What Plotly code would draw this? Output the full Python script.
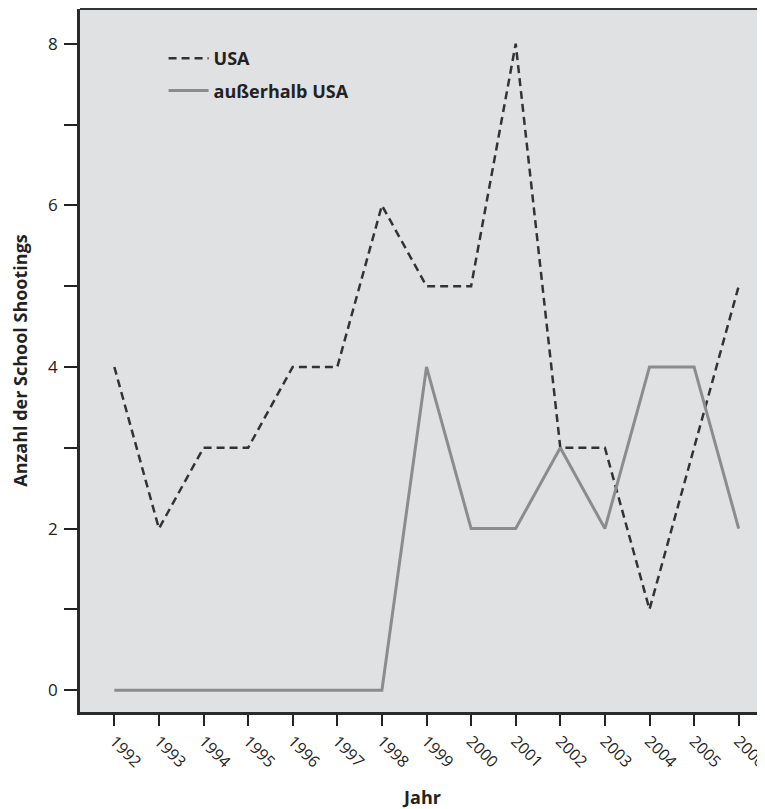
import plotly.graph_objects as go

years = [1992, 1993, 1994, 1995, 1996, 1997, 1998, 1999, 2000, 2001, 2002, 2003, 2004, 2005, 2006]
usa = [4, 2, 3, 3, 4, 4, 6, 5, 5, 8, 3, 3, 1, 3, 5]
outside = [0, 0, 0, 0, 0, 0, 0, 4, 2, 2, 3, 2, 4, 4, 2]
tick_labels = [str(y) for y in years]

FONT = "Open Sans"
INK = "#222222"

fig = go.Figure()
fig.add_trace(go.Scatter(x=years, y=usa, mode="lines", name="USA", legendgroup="a",
                         line=dict(color="#333333", width=2.5, dash="8px,5px")))
fig.add_trace(go.Scatter(x=years, y=outside, mode="lines", name="außerhalb USA", legendgroup="b",
                         line=dict(color="#8c8c8c", width=3)))

# the page adds an 8px body margin, so the figure is sized to fill the remaining window
fig.update_layout(
    width=757, height=801,
    margin=dict(l=72, r=0, t=1, b=97),
    paper_bgcolor="white",
    plot_bgcolor="#e0e1e3",
    font=dict(family=FONT, color=INK, size=15),
    showlegend=True,
    legend=dict(x=0.122, y=0.956, xanchor="left", yanchor="top", itemwidth=40,
                bgcolor="rgba(0,0,0,0)", font=dict(family=FONT, size=18, color=INK, weight="bold"),
                tracegroupgap=6),
    xaxis=dict(range=[1991.23, 2006.59], tickmode="array", tickvals=years, ticktext=tick_labels,
               tickangle=45, ticks="outside", ticklen=11, tickwidth=2, tickcolor=INK,
               showgrid=False, zeroline=False, showline=True, linecolor="#2a2a2a", linewidth=2.5,
               automargin=False, ticklabeloverflow="allow",
               tickfont=dict(family=FONT, size=16, color=INK),
               title=dict(text="Jahr", font=dict(family=FONT, size=18, weight="bold", color=INK), standoff=30)),
    yaxis=dict(range=[-0.27, 8.43], tickmode="array", tickvals=[0, 2, 4, 6, 8],
               ticks="outside", ticklen=13, tickwidth=1.5, tickcolor=INK,
               minor=dict(tickvals=[1, 3, 5, 7], ticks="outside", ticklen=13, tickwidth=1.5, tickcolor=INK),
               showgrid=False, zeroline=False, showline=True, linecolor="#2a2a2a", linewidth=2.5,
               automargin=False, ticklabelstandoff=3, tickfont=dict(family=FONT, size=17, color=INK),
               title=dict(text="Anzahl der School Shootings", font=dict(family=FONT, size=18, weight="bold", color=INK), standoff=36)),
)
# top border line of the frame
fig.add_shape(type="line", xref="paper", yref="paper", x0=0, x1=1, y0=1, y1=1,
              line=dict(color="#333333", width=2))

fig.write_html("out.html")
